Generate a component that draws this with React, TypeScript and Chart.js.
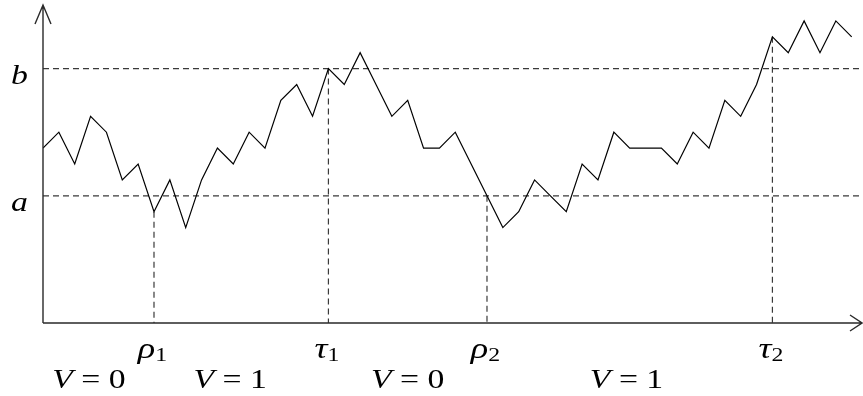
import React, { useEffect, useRef } from "react";
import { Chart, registerables } from "chart.js";

Chart.register(...registerables);

// ---- data ----
const steps: number[] = Array.from({ length: 52 }, (_, i) => i);
const pathValues: number[] = [
  11, 12, 10, 13, 12, 9, 10, 7, 9, 6, 9, 11, 10, 12, 11, 14, 15, 13, 16, 15,
  17, 15, 13, 14, 11, 11, 12, 10, 8, 6, 7, 9, 8, 7, 10, 9, 12, 11, 11, 11,
  10, 12, 11, 14, 13, 15, 18, 17, 19, 17, 19, 18,
];
const levelA = 8;
const levelB = 16;
const levelNames = ["a", "b"];
const stopIdx = [7, 18, 28, 46];
const stopSymbols = ["ρ", "τ", "ρ", "τ"];
const stopSubs = ["1", "1", "2", "2"];
const vLabelTexts = ["0", "1", "0", "1"];
const vLabelX = [2.9, 11.8, 23, 36.8];
const xMax = 51.65;
const yMax = 20;

const SERIF = '"Liberation Serif", "Times New Roman", serif';
const SX = 1.25;

type Part = { t: string; font: string; dy?: number };

function drawParts(ctx: CanvasRenderingContext2D, parts: Part[], cx: number, baseline: number) {
  const widths = parts.map((p) => {
    ctx.font = p.font;
    return ctx.measureText(p.t).width;
  });
  const total = widths.reduce((a, b) => a + b, 0) * SX;
  let x = cx - total / 2;
  parts.forEach((p, i) => {
    ctx.save();
    ctx.translate(x, baseline + (p.dy || 0));
    ctx.scale(SX, 1);
    ctx.font = p.font;
    ctx.textAlign = "left";
    ctx.textBaseline = "alphabetic";
    ctx.fillStyle = "#000";
    ctx.fillText(p.t, 0, 0);
    ctx.restore();
    x += widths[i] * SX;
  });
}

const decorPlugin = {
  id: "decor",
  afterDraw(chart: any) {
    const ctx: CanvasRenderingContext2D = chart.ctx;
    const xs = chart.scales.x;
    const ys = chart.scales.y;
    const x0 = xs.getPixelForValue(0);
    const xEnd = xs.getPixelForValue(xMax);
    const y0 = ys.getPixelForValue(0);
    const yTop = ys.getPixelForValue(yMax);
    ctx.save();
    ctx.strokeStyle = "#2a2a2a";
    ctx.lineWidth = 1.4;
    ctx.setLineDash([]);
    // x axis
    ctx.beginPath();
    ctx.moveTo(x0, y0);
    ctx.lineTo(xEnd, y0);
    ctx.moveTo(xEnd - 12, y0 - 8);
    ctx.lineTo(xEnd, y0);
    ctx.lineTo(xEnd - 12, y0 + 8);
    ctx.stroke();
    // y axis
    ctx.beginPath();
    ctx.moveTo(x0, y0);
    ctx.lineTo(x0, yTop);
    ctx.moveTo(x0 - 8, yTop + 19);
    ctx.lineTo(x0, yTop);
    ctx.lineTo(x0 + 8, yTop + 19);
    ctx.stroke();
    ctx.restore();

    const big = `italic 27px ${SERIF}`;
    const greek = `italic 29px ${SERIF}`;
    const up = `27px ${SERIF}`;
    const sub = `19px ${SERIF}`;
    // level labels
    [levelA, levelB].forEach((lv, i) => {
      drawParts(ctx, [{ t: levelNames[i], font: big }], 19.5, ys.getPixelForValue(lv) + 15);
    });
    // stopping time labels
    stopIdx.forEach((s, i) => {
      drawParts(
        ctx,
        [
          { t: stopSymbols[i], font: greek },
          { t: stopSubs[i], font: sub, dy: 3 },
        ],
        xs.getPixelForValue(s) - 1.5,
        y0 + 35
      );
    });
    // V labels
    vLabelX.forEach((vx, i) => {
      drawParts(
        ctx,
        [
          { t: "V", font: big },
          { t: " = ", font: up },
          { t: vLabelTexts[i], font: up },
        ],
        xs.getPixelForValue(vx),
        y0 + 65
      );
    });
  },
};

export default function App() {
  const ref = useRef<HTMLCanvasElement | null>(null);
  useEffect(() => {
    if (!ref.current) return;
    const dashStyle = {
      borderColor: "#3a3a3a",
      borderWidth: 1.2,
      borderDash: [6, 4],
      pointRadius: 0,
      fill: false,
      tension: 0,
    };
    const datasets: any[] = [
      {
        data: steps.map((s, i) => ({ x: s, y: pathValues[i] })),
        borderColor: "#000",
        borderWidth: 1.2,
        pointRadius: 0,
        tension: 0,
        fill: false,
      },
      { ...dashStyle, data: [{ x: 0, y: levelA }, { x: xMax, y: levelA }] },
      { ...dashStyle, data: [{ x: 0, y: levelB }, { x: xMax, y: levelB }] },
      ...stopIdx.map((s) => ({
        ...dashStyle,
        data: [
          { x: s, y: pathValues[s] },
          { x: s, y: 0 },
        ],
      })),
    ];
    const chart = new Chart(ref.current, {
      type: "line",
      data: { datasets },
      options: {
        animation: false,
        responsive: false,
        devicePixelRatio: 1,
        layout: { padding: { left: 43, right: 1, top: 5, bottom: 73 } },
        plugins: { legend: { display: false }, tooltip: { enabled: false } },
        scales: {
          x: { type: "linear", min: 0, max: xMax, display: false },
          y: { type: "linear", min: 0, max: yMax, display: false },
        },
      },
      plugins: [decorPlugin],
    } as any);
    return () => chart.destroy();
  }, []);
  return (
    <div style={{ position: "fixed", left: 0, top: 0, width: 863, height: 396, background: "#fff" }}>
      <canvas ref={ref} width={863} height={396} style={{ display: "block" }} />
    </div>
  );
}
